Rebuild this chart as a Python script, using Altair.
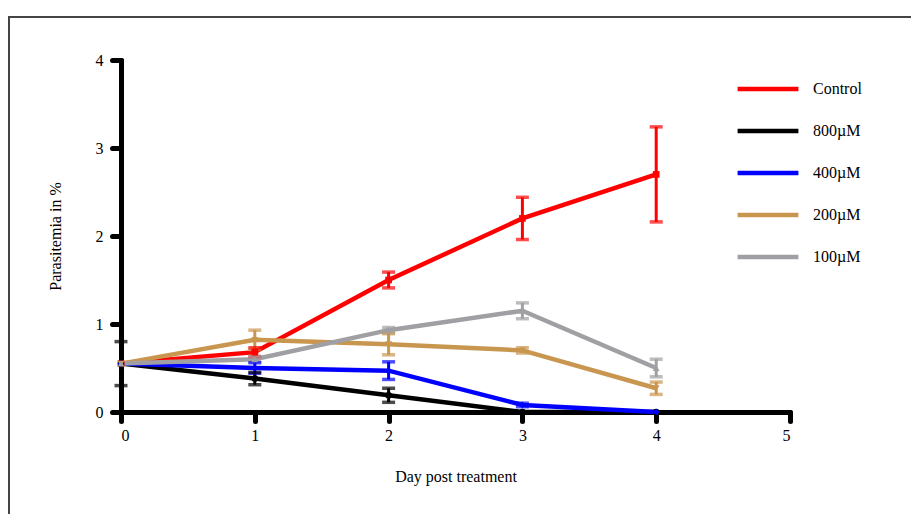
import altair as alt
import pandas as pd

days = [0, 1, 2, 3, 4]
groups = ["Control", "800\u00b5M", "400\u00b5M", "200\u00b5M", "100\u00b5M"]
colors = ["#ff0000", "#000000", "#0000ff", "#c8964f", "#a0a0a4"]
shapes = ["square", "circle", "diamond", "triangle-down", "triangle-up"]

mean_control = [0.55, 0.68, 1.50, 2.20, 2.70]
err_control = [0.00, 0.05, 0.09, 0.24, 0.54]
mean_800 = [0.55, 0.38, 0.19, 0.00, 0.00]
err_800 = [0.25, 0.07, 0.08, 0.00, 0.00]
mean_400 = [0.55, 0.50, 0.47, 0.08, 0.00]
err_400 = [0.00, 0.06, 0.10, 0.02, 0.00]
mean_200 = [0.55, 0.82, 0.77, 0.70, 0.27]
err_200 = [0.00, 0.11, 0.12, 0.03, 0.07]
mean_100 = [0.55, 0.60, 0.93, 1.15, 0.50]
err_100 = [0.00, 0.03, 0.03, 0.09, 0.10]

series = {
    "Control": (mean_control, err_control),
    "800\u00b5M": (mean_800, err_800),
    "400\u00b5M": (mean_400, err_400),
    "200\u00b5M": (mean_200, err_200),
    "100\u00b5M": (mean_100, err_100),
}

rows = []
for order, g in enumerate(groups):
    m, e = series[g]
    for d, v, s in zip(days, m, e):
        rows.append({"day": d, "group": g, "order": order, "mean": v,
                     "lo": max(v - s, 0), "hi": v + s, "has_err": s > 0})
df = pd.DataFrame(rows)

FONT = "Liberation Serif"
color_scale = alt.Scale(domain=groups, range=colors)

x_enc = alt.X("day:Q", scale=alt.Scale(domain=[0, 5], nice=False),
              axis=alt.Axis(values=[0, 1, 2, 3, 4, 5], format="d",
                            title="Day post treatment", titlePadding=25))
y_enc = alt.Y("mean:Q", scale=alt.Scale(domain=[0, 4], nice=False),
              axis=alt.Axis(values=[0, 1, 2, 3, 4], format="d", labelPadding=9,
                            title="Parasitemia in %", titlePadding=32))
color_enc = alt.Color("group:N", scale=color_scale,
                      legend=alt.Legend(orient="none", legendX=614, legendY=-4,
                                        title=None, symbolType="stroke",
                                        symbolSize=3700, symbolStrokeWidth=4.5,
                                        labelFont=FONT, labelFontSize=16,
                                        labelColor="#000", rowPadding=-21,
                                        labelOffset=12))
shape_enc = alt.Shape("group:N", scale=alt.Scale(domain=groups, range=shapes),
                      legend=None)
plain_color = alt.Color("group:N", scale=color_scale, legend=None)

base = alt.Chart(df)

lines = base.mark_line(strokeWidth=4.5).encode(
    x=x_enc, y=y_enc, color=color_enc, detail="group:N",
    order=alt.Order("day:Q"))

points = base.mark_point(filled=True, size=45, opacity=1).encode(
    x="day:Q", y="mean:Q", shape=shape_enc, color=plain_color)

errs = base.transform_filter("datum.has_err")

err_rule = errs.mark_rule(strokeWidth=3).encode(
    x="day:Q", y="lo:Q", y2="hi:Q", color=plain_color)
cap_lo = errs.mark_tick(orient="horizontal", size=13, thickness=3.5).encode(
    x="day:Q", y="lo:Q", color=plain_color)
cap_hi = errs.mark_tick(orient="horizontal", size=13, thickness=3.5).encode(
    x="day:Q", y="hi:Q", color=plain_color)

# outer frame around the figure
frame = alt.Chart(pd.DataFrame({"k": [0]})).mark_rect(
    fill=None, stroke="#444444", strokeWidth=2).encode(
    x=alt.value(-112), y=alt.value(-43), x2=alt.value(820), y2=alt.value(520))

chart = alt.layer(frame, lines, err_rule, cap_lo, cap_hi, points).resolve_scale(
    color="shared", shape="independent"
).properties(
    width=669, height=352,
    autosize=alt.AutoSizeParams(type="none"),
    padding={"left": 121, "top": 60, "right": 121, "bottom": 102},
    background="white",
).configure_view(stroke=None).configure_axis(
    domainColor="#000", domainWidth=5, tickColor="#000", tickWidth=5,
    tickSize=9, tickCap="round", domainCap="round", grid=False,
    labelFont=FONT, labelFontSize=16, labelColor="#000", labelPadding=6,
    titleFont=FONT, titleFontSize=16, titleFontWeight="normal", titleColor="#000",
)

chart.save("out.html", embed_options={"renderer": "svg", "actions": False})
